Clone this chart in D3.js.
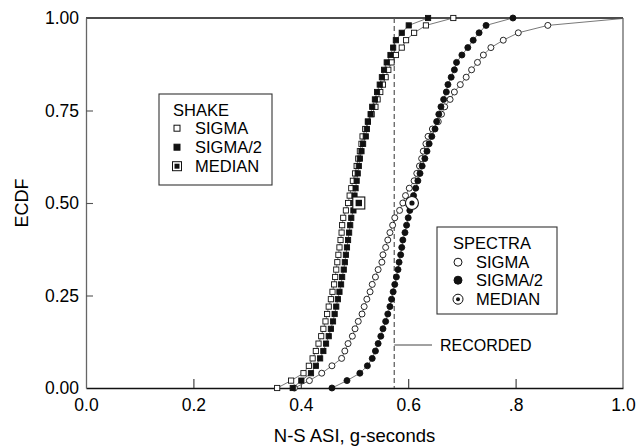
<!DOCTYPE html>
<html><head><meta charset="utf-8">
<script src="https://cdn.jsdelivr.net/npm/d3@7"></script>
<style>
body{margin:0;background:#fff}
svg{display:block}
text{font-family:"Liberation Sans",Arial,Helvetica,sans-serif;fill:#000}
</style>
</head><body>
<svg id="chart" width="638" height="447"></svg>
<script>
// ECDF levels shared by every series
const ecdfLevels = [0,0.02,0.04,0.06,0.08,0.10,0.12,0.14,0.16,0.18,0.20,0.22,0.24,0.26,0.28,0.30,0.32,0.34,0.36,0.38,0.40,0.42,0.44,0.46,0.48,0.50,0.52,0.54,0.56,0.58,0.60,0.62,0.64,0.66,0.68,0.70,0.72,0.74,0.76,0.78,0.80,0.82,0.84,0.86,0.88,0.90,0.92,0.94,0.96,0.98,1.00];
// SHAKE, SIGMA (open squares)
const shakeSigma = [0.356,0.382,0.405,0.415,0.422,0.428,0.433,0.438,0.442,0.446,0.449,0.452,0.456,0.459,0.462,0.464,0.466,0.468,0.470,0.472,0.474,0.476,0.477,0.479,0.484,0.488,0.491,0.494,0.497,0.501,0.504,0.507,0.510,0.513,0.515,0.520,0.525,0.532,0.539,0.543,0.548,0.553,0.558,0.563,0.569,0.577,0.588,0.596,0.611,0.633,0.684];
// SHAKE, SIGMA/2 (filled squares)
const shakeSigmaHalf = [0.385,0.401,0.419,0.428,0.436,0.442,0.447,0.452,0.456,0.460,0.463,0.466,0.469,0.472,0.475,0.477,0.480,0.482,0.484,0.486,0.488,0.490,0.492,0.494,0.498,0.499,0.500,0.502,0.504,0.506,0.508,0.510,0.513,0.516,0.521,0.523,0.525,0.530,0.533,0.538,0.542,0.547,0.551,0.555,0.560,0.567,0.572,0.577,0.588,0.601,0.637];
// SPECTRA, SIGMA (open circles)
const spectraSigma = [0.388,0.416,0.439,0.458,0.476,0.482,0.488,0.496,0.501,0.507,0.514,0.518,0.523,0.529,0.533,0.539,0.544,0.551,0.553,0.558,0.562,0.566,0.571,0.575,0.584,0.590,0.595,0.602,0.611,0.616,0.621,0.625,0.628,0.633,0.637,0.645,0.656,0.662,0.668,0.678,0.686,0.697,0.708,0.718,0.729,0.740,0.754,0.777,0.805,0.860,1.010];
// SPECTRA, SIGMA/2 (filled circles)
const spectraSigmaHalf = [0.458,0.486,0.510,0.524,0.533,0.539,0.544,0.549,0.553,0.558,0.562,0.566,0.569,0.572,0.575,0.578,0.581,0.583,0.586,0.588,0.590,0.594,0.597,0.600,0.603,0.607,0.610,0.614,0.618,0.622,0.626,0.631,0.635,0.639,0.644,0.650,0.653,0.657,0.661,0.666,0.671,0.674,0.680,0.686,0.690,0.700,0.711,0.721,0.732,0.745,0.795];
// medians [x, ecdf]
const shakeMedian = [0.508, 0.50];
const spectraMedian = [0.607, 0.50];
const recordedValue = 0.574;
// axes
const xTickValues = [0.0,0.2,0.4,0.6,0.8,1.0];
const xTickLabels = ["0.0","0.2","0.4","0.6",".8","1.0"];
const yTickValues = [0.00,0.25,0.50,0.75,1.00];
const yTickLabels = ["0.00","0.25","0.50","0.75","1.00"];
const xTitle = "N-S ASI, g-seconds";
const yTitle = "ECDF";
const shakeLegend = ["SHAKE","SIGMA","SIGMA/2","MEDIAN"];
const spectraLegend = ["SPECTRA","SIGMA","SIGMA/2","MEDIAN"];
const recordedLabel = "RECORDED";

const L = 86, R = 623, T = 18, B = 388;
const svg = d3.select("#chart");
const x = d3.scaleLinear().domain([0,1]).range([L,R]);
const y = d3.scaleLinear().domain([0,1]).range([B,T]);

svg.append("defs").append("clipPath").attr("id","clipx")
  .append("rect").attr("x",L).attr("y",0).attr("width",R-L).attr("height",447);

// frame lines (top & right)
svg.append("line").attr("x1",L).attr("x2",R).attr("y1",T).attr("y2",T).attr("stroke","#111").attr("stroke-width",1.3);
svg.append("line").attr("x1",R).attr("x2",R).attr("y1",T).attr("y2",B).attr("stroke","#666").attr("stroke-width",1.3);

// x axis
const xAxis = d3.axisBottom(x).tickValues(xTickValues)
  .tickFormat((d,i)=>xTickLabels[i]).tickSizeInner(-9).tickSizeOuter(0).tickPadding(11);
const gx = svg.append("g").attr("transform",`translate(0,${B})`).call(xAxis);
gx.select(".domain").attr("stroke","#111").attr("stroke-width",1.3);
gx.selectAll(".tick line").attr("stroke","#333").attr("stroke-width",1.1)
  .filter(d=>d===0||d===1).remove();
gx.selectAll(".tick text").attr("font-size",17.5).attr("fill","#000").attr("font-family","Liberation Sans, Arial, sans-serif");

// y axis
const yAxis = d3.axisLeft(y).tickValues(yTickValues)
  .tickFormat((d,i)=>yTickLabels[i]).tickSizeInner(-7).tickSizeOuter(0).tickPadding(7);
const gy = svg.append("g").attr("transform",`translate(${L},0)`).call(yAxis);
gy.select(".domain").attr("stroke","#666").attr("stroke-width",1.3);
gy.selectAll(".tick line").attr("stroke","#555").attr("stroke-width",1.1)
  .filter(d=>d===0||d===1).remove();
gy.selectAll(".tick text").attr("font-size",17.5).attr("fill","#000").attr("font-family","Liberation Sans, Arial, sans-serif");

// titles
svg.append("text").attr("x",(L+R)/2).attr("y",442).attr("text-anchor","middle").attr("font-size",18.5).text(xTitle);
svg.append("text").attr("transform",`translate(28,${(T+B)/2}) rotate(-90)`).attr("text-anchor","middle").attr("font-size",18).text(yTitle);

// recorded dashed line
svg.append("line").attr("x1",x(recordedValue)).attr("x2",x(recordedValue)).attr("y1",y(1)).attr("y2",y(0))
  .attr("stroke","#555").attr("stroke-width",1.2).attr("stroke-dasharray","5,3");
svg.append("line").attr("x1",x(recordedValue)).attr("x2",432).attr("y1",345).attr("y2",345).attr("stroke","#444").attr("stroke-width",1);
svg.append("text").attr("x",440).attr("y",345).attr("dy","0.36em").attr("font-size",16).text(recordedLabel);

// series
const plot = svg.append("g").attr("clip-path","url(#clipx)");
const series = [
  {vals: shakeSigma, shape:"square", fill:"#fff"},
  {vals: spectraSigma, shape:"circle", fill:"#fff"},
  {vals: shakeSigmaHalf, shape:"square", fill:"#111"},
  {vals: spectraSigmaHalf, shape:"circle", fill:"#111"}
];
const line = d3.line().x(d=>x(d[0])).y(d=>y(d[1]));
series.forEach(s=>{
  s.pts = s.vals.map((v,i)=>[v, ecdfLevels[i]]);
  plot.append("path").attr("d",line(s.pts)).attr("fill","none").attr("stroke","#555").attr("stroke-width",0.8);
});
series.forEach(s=>{
  const g = plot.append("g");
  if(s.shape==="square"){
    g.selectAll("rect").data(s.pts).join("rect")
      .attr("x",d=>x(d[0])-2.6).attr("y",d=>y(d[1])-2.6).attr("width",5.2).attr("height",5.2)
      .attr("fill",s.fill).attr("stroke","#111").attr("stroke-width",0.9);
  } else {
    g.selectAll("circle").data(s.pts).join("circle")
      .attr("cx",d=>x(d[0])).attr("cy",d=>y(d[1])).attr("r",3)
      .attr("fill",s.fill).attr("stroke","#111").attr("stroke-width",0.9);
  }
});
// medians
plot.append("rect").attr("x",x(shakeMedian[0])-6).attr("y",y(shakeMedian[1])-6).attr("width",12).attr("height",12)
  .attr("fill","#fff").attr("stroke","#111").attr("stroke-width",1.1);
plot.append("rect").attr("x",x(shakeMedian[0])-3.2).attr("y",y(shakeMedian[1])-3.2).attr("width",6.4).attr("height",6.4).attr("fill","#111");
plot.append("circle").attr("cx",x(spectraMedian[0])).attr("cy",y(spectraMedian[1])).attr("r",6.5)
  .attr("fill","#fff").attr("stroke","#111").attr("stroke-width",1.1);
plot.append("circle").attr("cx",x(spectraMedian[0])).attr("cy",y(spectraMedian[1])).attr("r",2.6).attr("fill","#111");

// legends
function legend(bx,by,bw,bh,tx,mx,baselines,labels,shape){
  const g = svg.append("g");
  g.append("rect").attr("x",bx).attr("y",by).attr("width",bw).attr("height",bh)
    .attr("fill","#fff").attr("stroke","#333").attr("stroke-width",1.1);
  g.append("text").attr("x",tx).attr("y",baselines[0]).attr("font-size",16.5).text(labels[0]);
  for(let i=1;i<4;i++){
    const cy = baselines[i]-5.8;
    g.append("text").attr("x",mx+18).attr("y",baselines[i]).attr("font-size",16.5).text(labels[i]);
    if(shape==="square"){
      if(i===3){
        g.append("rect").attr("x",mx-4.5).attr("y",cy-4.5).attr("width",9).attr("height",9).attr("fill","#fff").attr("stroke","#111");
        g.append("rect").attr("x",mx-2.5).attr("y",cy-2.5).attr("width",5).attr("height",5).attr("fill","#111");
      } else {
        g.append("rect").attr("x",mx-3).attr("y",cy-3).attr("width",6).attr("height",6)
          .attr("fill",i===1?"#fff":"#111").attr("stroke","#111");
      }
    } else {
      if(i===3){
        g.append("circle").attr("cx",mx).attr("cy",cy).attr("r",5).attr("fill","#fff").attr("stroke","#111");
        g.append("circle").attr("cx",mx).attr("cy",cy).attr("r",2).attr("fill","#111");
      } else {
        g.append("circle").attr("cx",mx).attr("cy",cy).attr("r",4)
          .attr("fill",i===1?"#fff":"#111").attr("stroke","#111");
      }
    }
  }
}
legend(159,94,113,91,173,177,[116,134,153,172],shakeLegend,"square");
legend(437,227,120,87,453,458,[249,268,286,305],spectraLegend,"circle");
</script>
</body></html>
